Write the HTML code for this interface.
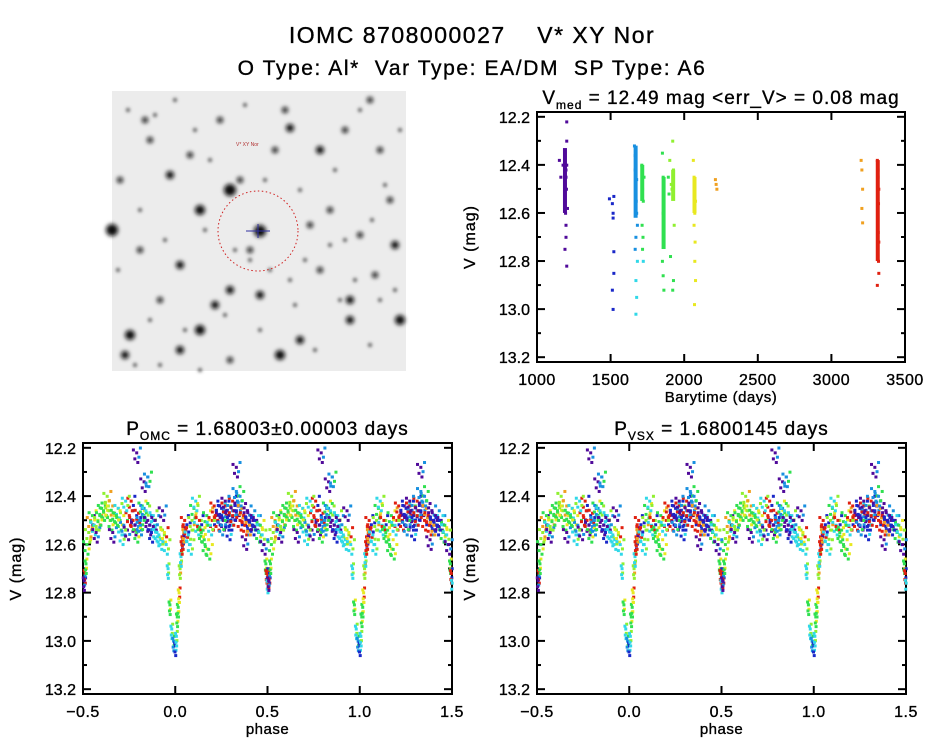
<!DOCTYPE html>
<html><head><meta charset="utf-8"><style>
body{margin:0;background:#fff;}
svg{display:block;font-family:"Liberation Sans",sans-serif;}
text{stroke:#000;stroke-width:0.35;}
</style></head><body>
<svg id="s" width="944" height="747">
<defs><filter id="bl" x="-1" y="-1" width="3" height="3"><feGaussianBlur stdDeviation="2.2"/></filter>
<filter id="bl2" x="-1" y="-1" width="3" height="3"><feGaussianBlur stdDeviation="1.6"/></filter></defs>
<text x="472" y="43" text-anchor="middle" font-size="23" letter-spacing="1.5">IOMC 8708000027 &#160;&#160; V* XY Nor</text>
<text x="472" y="75" text-anchor="middle" font-size="21" letter-spacing="1.6">O Type: Al*&#160; Var Type: EA/DM&#160; SP Type: A6</text>
<g id="img"><rect x="112" y="91" width="294" height="280" fill="#ececec"/></g>
<g id="tr"></g>
<g id="bl1"></g>
<g id="bl2g"></g>
</svg>
<script>
const NS="http://www.w3.org/2000/svg";
function mk(p,t,a){const e=document.createElementNS(NS,t);for(const k in a)e.setAttribute(k,a[k]);p.appendChild(e);return e;}
const palette=["#500a9a","#1a28c8","#1890e0","#30d8e8","#30e050","#90f030","#e8e820","#f0a020","#e02010","#000"];
// time series data
const timeVals=[1150,1160,1175,1185,1190,1190,1192,1195,1198,1200,1200,1195,1190,1185,1195,1200,1205,1188,1195,1200,
1490,1510,1515,1520,1520,1510,1515,1520,1515,
1660,1665,1670,1670,1675,1670,1665,1680,1670,1675,1665,1672,1680,1670,1675,1668,
1710,1715,1720,1712,1718,1715,1720,1725,
1850,1855,1860,1855,1860,1850,1855,1860,1890,1900,1895,1905,1920,1925,1915,1930,1920,1925,1910,
2060,2065,2070,2075,2070,2065,2072,2070,2075,2068,2210,2215,2220,
3200,3205,3210,3205,3210,3310,3315,3320,3318,3312,3316,3320,3314,3318,3320,3310,3315];
const timeMags=[12.38,12.45,12.4,12.35,12.5,12.55,12.6,12.45,12.5,12.22,12.3,12.42,12.48,12.52,12.7,12.82,12.58,12.75,12.65,12.4,
12.54,12.56,12.62,12.76,12.85,12.92,13.0,12.53,12.6,
12.32,12.36,12.4,12.5,12.6,12.7,12.75,12.8,12.88,12.95,12.42,12.55,12.65,13.02,12.46,12.58,
12.4,12.5,12.55,12.65,12.7,12.75,12.8,12.45,
12.35,12.45,12.5,12.6,12.7,12.8,12.86,12.92,12.45,12.38,12.52,12.78,12.3,12.42,12.5,12.65,12.92,12.88,12.48,
12.38,12.45,12.5,12.55,12.6,12.65,12.72,12.8,12.88,12.98,12.46,12.48,12.5,
12.38,12.42,12.5,12.58,12.64,12.38,12.42,12.5,12.56,12.62,12.68,12.72,12.78,12.8,12.85,12.9,12.45];
const timeCols=[0,0,0,0,0,0,0,0,0,0,0,0,0,0,0,0,0,0,0,0,1,1,1,1,1,1,1,1,1,2,2,2,2,2,2,2,3,3,3,2,2,2,3,2,2,4,4,4,4,4,4,3,4,4,4,4,4,4,4,4,4,4,5,4,4,5,5,5,5,4,4,5,6,6,6,6,6,6,6,6,6,6,7,7,7,7,7,7,7,7,8,8,8,8,8,8,8,8,8,8,8,8];
// phase data (phase in [-0.5,0.5))
const phaseVals=[-0.49,-0.48,-0.47,-0.46,-0.45,-0.44,-0.43,-0.42,-0.4,-0.38,-0.36,-0.35,-0.33,-0.31,-0.3,-0.28,-0.26,-0.25,-0.23,-0.22,-0.21,-0.2,-0.19,-0.18,-0.17,-0.16,-0.15,-0.14,-0.13,-0.12,-0.11,-0.1,-0.09,-0.08,-0.07,-0.06,-0.05,-0.04,-0.03,-0.02,-0.01,0,0.005,0.01,0.015,0.02,0.025,0.03,0.035,0.04,0.045,0.05,0.06,0.07,0.08,0.09,0.1,0.12,0.13,0.15,0.16,0.17,0.18,0.2,0.22,0.23,0.24,0.25,0.26,0.27,0.28,0.29,0.3,0.31,0.32,0.33,0.34,0.35,0.36,0.37,0.38,0.39,0.4,0.41,0.42,0.44,0.45,0.46,0.47,0.48,0.49,0.495,0.5,0.505,-0.495,-0.485,
-0.41,-0.37,-0.34,-0.29,-0.24,-0.21,-0.19,-0.17,-0.15,0.14,0.19,0.21,0.27,0.29,0.31,0.33,0.35,0.38,0.4,0.43,-0.39,-0.32,-0.27,0.11,0.25];
const phaseMags=[12.72,12.6,12.55,12.5,12.48,12.52,12.55,12.5,12.45,12.44,12.46,12.5,12.47,12.45,12.5,12.52,12.54,12.48,12.5,12.52,12.22,12.47,12.5,12.44,12.45,12.46,12.5,12.52,12.55,12.48,12.5,12.55,12.56,12.58,12.46,12.55,12.6,12.7,12.85,12.95,13.0,13.02,12.98,12.9,12.86,12.8,12.7,12.65,12.6,12.58,12.55,12.5,12.53,12.56,12.6,12.5,12.45,12.52,12.5,12.54,12.6,12.48,12.62,12.5,12.46,12.5,12.48,12.45,12.5,12.44,12.46,12.48,12.5,12.42,12.46,12.38,12.44,12.5,12.45,12.48,12.52,12.46,12.5,12.48,12.52,12.5,12.55,12.52,12.56,12.6,12.68,12.72,12.76,12.74,12.75,12.68,
12.48,12.4,12.55,12.56,12.42,12.55,12.52,12.34,12.32,12.55,12.52,12.44,12.42,12.54,12.48,12.28,12.4,12.58,12.52,12.5,12.46,12.48,12.42,12.42,12.52];
const phaseCols=[8,4,5,7,4,3,9,5,4,4,5,4,4,3,4,2,0,8,8,0,0,8,2,4,2,3,0,0,1,3,0,3,3,3,0,6,3,3,4,3,2,1,3,4,4,6,5,3,8,8,7,8,8,3,3,5,4,3,8,4,4,4,4,8,7,8,0,1,0,8,2,0,1,8,0,2,0,8,7,8,8,0,1,0,1,0,4,4,3,0,4,8,3,8,0,4,
4,5,0,3,8,4,2,0,2,4,3,8,0,1,8,0,2,0,7,1,4,4,3,3,2];

function axes(g,x0,x1,y0,y1,xmin,xmax,xt,xlab,xtitle,title,titleSub,titleRest){
 const X=v=>x0+(v-xmin)/(xmax-xmin)*(x1-x0);
 const Y=v=>y0+(v-12.18)/(13.22-12.18)*(y1-y0);
 const e1=mk(g,"rect",{x:x0,y:y0,width:x1-x0,height:y1-y0,fill:"none",stroke:"#000","stroke-width":2});
 
 for(let i=0;i<xt.length;i++){
  mk(g,"line",{x1:X(xt[i]),x2:X(xt[i]),y1:y1,y2:y1-8,stroke:"#000","stroke-width":2});
  mk(g,"line",{x1:X(xt[i]),x2:X(xt[i]),y1:y0,y2:y0+8,stroke:"#000","stroke-width":2});
  const t=mk(g,"text",{x:X(xt[i]),y:y1+23,"text-anchor":"middle","font-size":16,"letter-spacing":0.5});t.textContent=xlab[i];
  
 }
 for(let v=12.2;v<13.21;v+=0.1){
  const big=Math.abs(Math.round(v*10)%2)==0;
  mk(g,"line",{x1:x0,x2:x0+(big?8:4),y1:Y(v),y2:Y(v),stroke:"#000","stroke-width":2});
  mk(g,"line",{x1:x1,x2:x1-(big?8:4),y1:Y(v),y2:Y(v),stroke:"#000","stroke-width":2});
  if(big){const t=mk(g,"text",{x:x0-7,y:Y(v)+6,"text-anchor":"end","font-size":16});t.textContent=v.toFixed(1);
  }
 }
 const yt=mk(g,"text",{x:0,y:0,"text-anchor":"middle","font-size":16,"letter-spacing":1,transform:`translate(${x0-62},${(y0+y1)/2}) rotate(-90)`});yt.textContent="V (mag)";
 
 const xx=mk(g,"text",{x:(x0+x1)/2,y:y1+40,"text-anchor":"middle","font-size":15,"letter-spacing":0.5});xx.textContent=xtitle;
 
 const tt=mk(g,"text",{x:(x0+x1)/2,y:y0-8,"text-anchor":"middle","font-size":19,"letter-spacing":1});
 
 tt.textContent=title;const s=mk(tt,"tspan",{"font-size":12,dy:5});s.textContent=titleSub;const r=mk(tt,"tspan",{dy:-5});r.textContent=titleRest;
 return {X,Y};
}
// time plot
{const g=document.getElementById("tr");
 const a=axes(g,537,905,112,362,1000,3500,[1000,1500,2000,2500,3000,3500],["1000","1500","2000","2500","3000","3500"],"Barytime (days)","V","med"," = 12.49 mag <err_V> = 0.08 mag");
 const thick=[[1190,12.33,12.6,0],[1670,12.32,12.62,2],[3315,12.38,12.8,8],[2070,12.45,12.6,6],[1715,12.4,12.55,4],[1925,12.42,12.55,5],[1860,12.45,12.75,4]];
 for(const c of thick){const r=mk(g,"rect",{x:a.X(c[0])-2,y:a.Y(c[1]),width:4,height:a.Y(c[2])-a.Y(c[1]),fill:palette[c[3]]});
 }
 for(let i=0;i<timeVals.length;i++){const r=mk(g,"rect",{x:a.X(timeVals[i])-1.2,y:a.Y(timeMags[i])-1.2,width:3,height:3,fill:palette[timeCols[i]]});
 }
}
const jit=[[0,0],[0.012,0.018],[-0.01,0.025],[0.02,-0.02],[-0.018,-0.012],[0.006,0.04]];
function phasePlot(id,x0,title,sub,rest){
 const g=document.getElementById(id);
 const a=axes(g,x0,x0+369,443,694,-0.5,1.5,[-0.5,0,0.5,1,1.5],["−0.5","0.0","0.5","1.0","1.5"],"phase",title,sub,rest);
 for(let i=0;i<phaseVals.length;i++)for(const off of [0,1]){
  const deep=Math.abs(phaseVals[i])<0.05||Math.abs(Math.abs(phaseVals[i])-0.5)<0.02;
  for(const j of jit){
  const p=phaseVals[i]+off+(deep?j[0]*0.25:j[0]); if(p<-0.5||p>1.5)continue;
  const r=mk(g,"rect",{x:a.X(p)-1.3,y:a.Y(phaseMags[i]+j[1])-1.3,width:3,height:3,fill:palette[(phaseCols[i]+(j[0]>0.01?2:0))%9]});
  }
 }
}
phasePlot("bl1",83,"P","OMC"," = 1.68003±0.00003 days");
phasePlot("bl2g",537,"P","VSX"," = 1.6800145 days");
// sky image stars
const starX=[112,170,200,220,290,320,370,130,160,180,230,250,280,320,350,380,395,120,150,190,230,275,310,345,390,140,200,240,300,360,400,125,180,230,260,330,375,145,215,285,350,260,
 128,155,175,195,210,245,265,300,335,360,385,400,140,165,205,235,270,305,330,355,380,118,150,185,225,260,295,340,370,395,135,160,200,250,290,315,345,372];
const starY=[230,175,210,120,128,150,100,335,300,265,290,250,355,270,300,150,245,180,140,155,360,150,225,130,200,250,330,180,340,235,320,355,350,190,295,210,275,120,305,110,320,231,
 110,115,100,130,160,105,180,190,170,110,185,130,210,240,230,250,270,260,245,280,300,270,320,330,315,330,305,300,345,290,365,365,370,260,280,350,240,220];
const starR=[6,4,5,3,4,4,3,5,3,4,4,3,5,3,4,3,4,3,3,3,3,3,3,3,3,3,5,3,4,3,5,4,4,6,4,3,3,3,4,3,4,6,
 2,2,2,2,2,2,2,2,2,2,2,2,2,2,2,2,2,2,2,2,2,2,2,2,2,2,2,2,2,2,2,2,2,2,2,2,2,2];
{const g=document.getElementById("img");
 for(let i=0;i<starX.length;i++){const c=mk(g,"circle",{cx:starX[i],cy:starY[i],r:starR[i],fill:starR[i]>2?"#111":"#555",filter:starR[i]>2?"url(#bl)":"url(#bl2)"});
 }
 const c=mk(g,"circle",{cx:258,cy:231,r:40,fill:"none",stroke:"#d02020","stroke-width":1,"stroke-dasharray":"1.5 2.5"});
 
 mk(g,"line",{x1:246,x2:270,y1:231,y2:231,stroke:"#3030a0","stroke-width":1});
 mk(g,"line",{x1:258,x2:258,y1:224,y2:238,stroke:"#3030a0","stroke-width":1});
 const t=mk(g,"text",{x:236,y:146,"font-size":5,fill:"#b03030",style:"stroke:none"});t.textContent="V* XY Nor";
 
}
</script>
</body></html>
